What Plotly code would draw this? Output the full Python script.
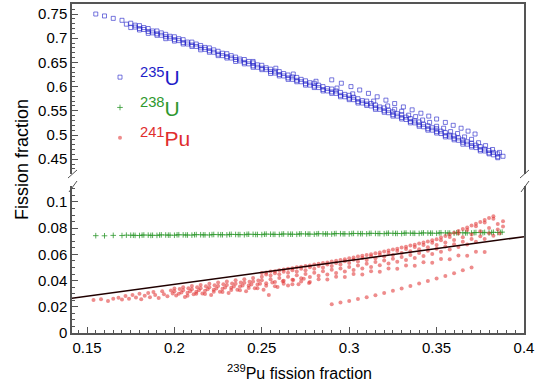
import plotly.graph_objects as go

# ---------------- data ----------------
# 235U (upper panel) tracks
U235_X1 = [0.155,0.160,0.165,0.170,0.175,0.180,0.185,0.190,0.195,0.200,0.205,0.210,0.215,0.220,0.225,0.230,
           0.235,0.240,0.245,0.250,0.255,0.260,0.265,0.270,0.275,0.280,0.285,0.290,0.295,0.300,0.305,0.310,
           0.315,0.320,0.325,0.330,0.335,0.340,0.345,0.350,0.355,0.360,0.365,0.370,0.375,0.380,0.385]
U235_Y1 = [0.750,0.746,0.741,0.737,0.731,0.726,0.720,0.715,0.708,0.703,0.697,0.692,0.685,0.680,0.673,0.668,
           0.661,0.656,0.649,0.644,0.636,0.631,0.624,0.619,0.612,0.607,0.600,0.595,0.588,0.582,0.575,0.570,
           0.562,0.556,0.548,0.542,0.534,0.527,0.519,0.513,0.505,0.498,0.490,0.483,0.476,0.468,0.461]
U235_X2 = [0.1725,0.1775,0.1825,0.1875,0.1925,0.1975,0.2025,0.2075,0.2125,0.2175,0.2225,0.2275,0.2325,0.2375,
           0.2425,0.2475,0.2525,0.2575,0.2625,0.2675,0.2725,0.2775,0.2825,0.2875,0.2925,0.2975,0.3025,0.3075,
           0.3125,0.3175,0.3225,0.3275,0.3325,0.3375,0.3425,0.3475,0.3525,0.3575,0.3625,0.3675,0.3725,0.3775,0.3825]
U235_Y2 = [0.729,0.723,0.718,0.711,0.706,0.700,0.695,0.688,0.683,0.677,0.671,0.664,0.659,0.653,
           0.647,0.640,0.635,0.628,0.622,0.615,0.610,0.603,0.598,0.591,0.586,0.579,0.573,0.566,
           0.560,0.553,0.546,0.539,0.532,0.525,0.517,0.510,0.503,0.496,0.489,0.481,0.474,0.467,0.459]
U235_X3 = [0.175,0.180,0.185,0.190,0.195,0.200,0.205,0.210,0.215,0.220,0.225,0.230,0.235,0.240,0.245,0.250,
           0.255,0.260,0.265,0.270,0.275,0.280,0.285,0.290,0.295,0.300,0.305,0.310,0.315,0.320,0.325,0.330,
           0.335,0.340,0.345,0.350,0.355,0.360,0.365,0.370,0.375,0.380,0.385]
U235_Y3 = [0.722,0.717,0.710,0.706,0.699,0.694,0.688,0.683,0.676,0.671,0.664,0.659,0.652,0.647,0.640,0.635,
           0.627,0.622,0.615,0.610,0.603,0.598,0.591,0.586,0.579,0.573,0.566,0.561,0.553,0.547,0.539,0.533,
           0.525,0.518,0.510,0.504,0.496,0.490,0.481,0.475,0.467,0.461,0.453]
U235_X4 = [0.245,0.258,0.268,0.281,0.293,0.302,0.314,0.322,0.326,0.330,0.334,0.338,0.342,0.346,0.350,0.354,
           0.358,0.362,0.366,0.370,0.374,0.378,0.382,0.386,0.388]
U235_Y4 = [0.652,0.638,0.626,0.611,0.597,0.585,0.570,0.560,0.553,0.549,0.541,0.538,0.531,0.526,0.518,0.514,
           0.507,0.503,0.496,0.491,0.484,0.478,0.470,0.464,0.456]
U235_X5 = [0.290,0.2955,0.301,0.306,0.311,0.316,0.321,0.326,0.331,0.336,0.341,0.3455,0.350,0.355,0.3595,0.364,0.368,0.372]
U235_Y5 = [0.614,0.607,0.600,0.593,0.586,0.579,0.572,0.565,0.558,0.552,0.545,0.539,0.533,0.526,0.520,0.514,0.508,0.502]
U235_X6 = [0.1775,0.1825,0.1875,0.1925,0.1975,0.2025,0.2075,0.2125,0.2175,0.2225,0.2275,0.2325,0.2375,0.2425,
           0.2475,0.2525,0.2575,0.2625,0.2675,0.2725,0.2775,0.2825,0.2875,0.2925,0.2975,0.3025,0.3075,0.3125,
           0.3175,0.3225,0.3275,0.3325,0.3375,0.3425,0.3475,0.3525,0.3575,0.3625,0.3675,0.3725,0.3775,0.3825]
U235_Y6 = [0.727,0.722,0.715,0.711,0.704,0.699,0.692,0.688,0.681,0.676,0.669,0.664,0.657,0.652,
           0.645,0.639,0.632,0.627,0.620,0.615,0.608,0.603,0.596,0.591,0.584,0.578,0.571,0.565,
           0.558,0.551,0.544,0.537,0.529,0.522,0.515,0.508,0.500,0.494,0.486,0.479,0.471,0.464]
U235_X7 = [0.180,0.185,0.190,0.195,0.200,0.205,0.210,0.215,0.220,0.225,0.230,0.235,0.240,0.245,0.250,0.255,
           0.260,0.265,0.270,0.275,0.280,0.285,0.290,0.295,0.300,0.305,0.310,0.315,0.320,0.325,0.330,0.335,
           0.340,0.345,0.350,0.355,0.360,0.365,0.370,0.375,0.380,0.385]
U235_Y7 = [0.720,0.714,0.709,0.703,0.697,0.691,0.686,0.680,0.674,0.667,0.662,0.656,0.650,0.643,0.638,0.631,
           0.625,0.618,0.613,0.606,0.601,0.594,0.589,0.582,0.576,0.569,0.564,0.556,0.550,0.542,0.536,0.528,
           0.521,0.513,0.507,0.499,0.493,0.485,0.478,0.470,0.463,0.455]

# 238U (lower panel)
U238_X1 = [0.155,0.160,0.165,0.170,0.175,0.180,0.185,0.190,0.195,0.200,0.205,0.210,0.215,0.220,0.225,0.230,
           0.235,0.240,0.245,0.250,0.255,0.260,0.265,0.270,0.275,0.280,0.285,0.290,0.295,0.300,0.305,0.310,
           0.315,0.320,0.325,0.330,0.335,0.340,0.345,0.350,0.355,0.360,0.365,0.370,0.375,0.380,0.385]
U238_Y1 = [0.0743,0.0742,0.0745,0.0744,0.0746,0.0744,0.0747,0.0745,0.0748,0.0746,0.0749,0.0747,0.0750,0.0748,
           0.0751,0.0749,0.0752,0.0750,0.0753,0.0751,0.0754,0.0752,0.0755,0.0753,0.0756,0.0754,0.0757,0.0755,
           0.0758,0.0756,0.0759,0.0757,0.0760,0.0758,0.0761,0.0759,0.0762,0.0760,0.0763,0.0761,0.0764,0.0762,
           0.0765,0.0763,0.0766,0.0764,0.0767]
U238_X2 = [0.1725,0.1775,0.1825,0.1875,0.1925,0.1975,0.2025,0.2075,0.2125,0.2175,0.2225,0.2275,0.2325,0.2375,
           0.2425,0.2475,0.2525,0.2575,0.2625,0.2675,0.2725,0.2775,0.2825,0.2875,0.2925,0.2975,0.3025,0.3075,
           0.3125,0.3175,0.3225,0.3275,0.3325,0.3375,0.3425,0.3475,0.3525,0.3575,0.3625,0.3675,0.3725,0.3775,
           0.3825,0.3875]
U238_Y2 = [0.0747,0.0745,0.0748,0.0746,0.0749,0.0747,0.0750,0.0748,0.0751,0.0749,0.0752,0.0750,0.0753,0.0751,
           0.0754,0.0752,0.0755,0.0753,0.0756,0.0754,0.0757,0.0755,0.0758,0.0756,0.0759,0.0757,0.0760,0.0758,
           0.0761,0.0759,0.0762,0.0760,0.0763,0.0761,0.0764,0.0762,0.0765,0.0763,0.0766,0.0764,0.0767,0.0768,
           0.0769,0.0770]
U238_X3 = [0.1765,0.1815,0.1865,0.1915,0.1965,0.2015,0.2065,0.2115,0.2165,0.2215,0.2265,0.2315,0.2365,0.2415,
           0.2465,0.2515,0.2565,0.2615,0.2665,0.2715,0.2765,0.2815,0.2865,0.2915,0.2965,0.3015,0.3065,0.3115,
           0.3165,0.3215,0.3265,0.3315,0.3365,0.3415,0.3465,0.3515,0.3565,0.3615,0.3665,0.3715,0.3765,0.3815,0.3865]
U238_Y3 = [0.0746,0.0747,0.0745,0.0748,0.0747,0.0749,0.0748,0.0750,0.0749,0.0751,0.0750,0.0752,0.0751,0.0753,
           0.0752,0.0754,0.0753,0.0755,0.0754,0.0756,0.0755,0.0757,0.0756,0.0758,0.0757,0.0759,0.0758,0.0760,
           0.0759,0.0761,0.0760,0.0762,0.0761,0.0763,0.0762,0.0764,0.0763,0.0765,0.0764,0.0766,0.0765,0.0767,0.0768]

# 241Pu (lower panel)
# dense top bundle
PU241_X1 = [0.2500,0.2525,0.2550,0.2575,0.2600,0.2625,0.2650,0.2675,0.2700,0.2725,0.2750,0.2775,0.2800,0.2825,
            0.2850,0.2875,0.2900,0.2925,0.2950,0.2975,0.3000,0.3025,0.3050,0.3075,0.3100,0.3125,0.3150,0.3175,
            0.3200,0.3225,0.3250,0.3275,0.3300,0.3325,0.3350,0.3375,0.3400,0.3425,0.3450,0.3475,0.3500,0.3525,
            0.3550,0.3575,0.3600,0.3625,0.3650,0.3675,0.3700,0.3725,0.3750,0.3775,0.3800,0.3825]
PU241_Y1 = [0.0458,0.0462,0.0469,0.0472,0.0479,0.0484,0.0490,0.0494,0.0501,0.0505,0.0512,0.0516,0.0523,0.0528,
            0.0535,0.0539,0.0546,0.0551,0.0558,0.0563,0.0571,0.0576,0.0583,0.0589,0.0596,0.0602,0.0609,0.0615,
            0.0623,0.0629,0.0637,0.0644,0.0652,0.0659,0.0667,0.0674,0.0683,0.0690,0.0699,0.0707,0.0716,0.0728,
            0.0740,0.0753,0.0766,0.0779,0.0793,0.0806,0.0820,0.0834,0.0848,0.0862,0.0877,0.0891]
PU241_X1B = [0.2525,0.2575,0.2625,0.2675,0.2725,0.2775,0.2825,0.2875,0.2925,0.2975,0.3025,0.3075,0.3125,0.3175,
             0.3225,0.3275,0.3325,0.3375,0.3425,0.3475,0.3525,0.3575,0.3625,0.3675,0.3725,0.3775,0.3825]
PU241_Y1B = [0.0447,0.0457,0.0468,0.0479,0.0490,0.0501,0.0512,0.0523,0.0535,0.0547,0.0559,0.0572,0.0585,0.0598,
             0.0611,0.0626,0.0641,0.0656,0.0672,0.0688,0.0708,0.0733,0.0760,0.0787,0.0815,0.0843,0.0872]
# fanning lighter tracks
PU241_X2 = [0.200,0.205,0.210,0.215,0.220,0.225,0.230,0.235,0.240,0.245,0.250,0.255,0.260,0.265,0.270,0.275,
            0.280,0.285,0.290,0.295,0.300,0.305,0.310,0.315,0.320,0.325,0.330,0.335,0.340,0.345,0.350,0.355,
            0.360,0.365,0.370,0.375,0.380,0.385,0.388]
PU241_Y2 = [0.0340,0.0350,0.0358,0.0367,0.0376,0.0385,0.0394,0.0402,0.0411,0.0420,0.0430,0.0439,0.0449,0.0459,
            0.0469,0.0479,0.0490,0.0500,0.0511,0.0522,0.0534,0.0546,0.0558,0.0570,0.0583,0.0596,0.0610,0.0624,
            0.0639,0.0655,0.0672,0.0690,0.0710,0.0730,0.0752,0.0776,0.0802,0.0832,0.0852]
PU241_X3 = PU241_X2
PU241_Y3 = [0.0318,0.0326,0.0334,0.0342,0.0350,0.0358,0.0367,0.0375,0.0384,0.0393,0.0402,0.0411,0.0420,0.0430,
            0.0440,0.0450,0.0460,0.0471,0.0482,0.0493,0.0504,0.0516,0.0528,0.0541,0.0554,0.0567,0.0581,0.0596,
            0.0611,0.0627,0.0643,0.0660,0.0678,0.0697,0.0717,0.0739,0.0762,0.0790,0.0812]
PU241_X4 = [0.2025,0.2075,0.2125,0.2175,0.2225,0.2275,0.2325,0.2375,0.2425,0.2475,0.2525,0.2575,0.2625,0.2675,
            0.2725,0.2775,0.2825,0.2875,0.2925,0.2975,0.3025,0.3075,0.3125,0.3175,0.3225,0.3275,0.3325,0.3375,
            0.3425,0.3475,0.3525,0.3575,0.3625,0.3675,0.3725,0.3775,0.3825,0.3860]
PU241_Y4 = [0.0300,0.0307,0.0315,0.0322,0.0330,0.0338,0.0346,0.0354,0.0362,0.0371,0.0380,0.0389,0.0398,0.0407,
            0.0417,0.0427,0.0437,0.0447,0.0458,0.0469,0.0480,0.0492,0.0504,0.0517,0.0530,0.0543,0.0557,0.0572,
            0.0587,0.0603,0.0620,0.0637,0.0656,0.0675,0.0696,0.0718,0.0742,0.0760]
# tracks under the fit line
PU241_X5 = [0.2075,0.2175,0.2275,0.2375,0.2475,0.2575,0.2675,0.2775,0.2875,0.2975,0.3075,0.3175,0.3275,0.3375,
            0.3475,0.3575,0.3675,0.3775]
PU241_Y5 = [0.0285,0.0298,0.0312,0.0326,0.0341,0.0357,0.0373,0.0390,0.0408,0.0427,0.0447,0.0468,0.0490,0.0513,
            0.0537,0.0562,0.0589,0.0618]
PU241_X6 = [0.2125,0.2225,0.2325,0.2425,0.2525,0.2625,0.2725,0.2825,0.2925,0.3025,0.3125,0.3225,0.3325,0.3425,
            0.3525,0.3625,0.3725]
PU241_Y6 = [0.0300,0.0314,0.0329,0.0344,0.0360,0.0376,0.0393,0.0411,0.0430,0.0450,0.0471,0.0493,0.0516,0.0540,
            0.0565,0.0592,0.0620]
# sparse low track
PU241_X7 = [0.290,0.295,0.300,0.305,0.310,0.315,0.320,0.325,0.330,0.335,0.340,0.345,0.350,0.355,0.360,0.365,0.370]
PU241_Y7 = [0.0220,0.0232,0.0245,0.0259,0.0273,0.0289,0.0305,0.0322,0.0340,0.0358,0.0377,0.0396,0.0416,0.0436,
            0.0457,0.0478,0.0500]
# scattered cloud at low 239Pu fraction
PU241_X8 = [0.1537,0.158,0.162,0.165,0.168,0.170,0.172,0.174,0.176,0.178,0.180,0.181,0.183,0.185,0.186,0.188,
            0.189,0.191,0.193,0.194,0.196,0.198,0.199,0.201,0.203,0.204,0.206,0.208,0.209,0.211,0.213,0.214,
            0.216,0.218,0.219,0.221,0.223,0.224,0.226,0.228,0.229,0.231,0.233,0.234,0.236,0.238,0.239,0.241,
            0.243,0.244,0.246,0.248,0.249,0.251,0.254,0.256,0.259,0.262,0.265,0.268,0.271,0.274,0.277]
PU241_Y8 = [0.0252,0.0258,0.0245,0.0262,0.0270,0.0255,0.0282,0.0262,0.0290,0.0271,0.0300,0.0258,0.0285,0.0305,
            0.0272,0.0312,0.0290,0.0268,0.0318,0.0295,0.0280,0.0325,0.0302,0.0287,0.0335,0.0310,0.0275,0.0342,
            0.0318,0.0295,0.0350,0.0326,0.0302,0.0357,0.0334,0.0290,0.0365,0.0340,0.0315,0.0372,0.0348,0.0305,
            0.0378,0.0355,0.0330,0.0386,0.0362,0.0318,0.0392,0.0370,0.0342,0.0400,0.0376,0.0330,0.0290,0.0385,
            0.0352,0.0395,0.0362,0.0405,0.0372,0.0415,0.0382]

# linear fit line
FIT_X = [0.14, 0.40]
FIT_Y = [0.0262, 0.0735]

X_TICKS = [0.15, 0.2, 0.25, 0.3, 0.35, 0.4]
X_TICKTEXT = ["0.15", "0.2", "0.25", "0.3", "0.35", "0.4"]
YLOW_TICKS = [0, 0.02, 0.04, 0.06, 0.08, 0.1]
YLOW_TICKTEXT = ["0", "0.02", "0.04", "0.06", "0.08", "0.1"]
YUP_TICKS = [0.45, 0.5, 0.55, 0.6, 0.65, 0.7, 0.75]
YUP_TICKTEXT = ["0.45", "0.5", "0.55", "0.6", "0.65", "0.7", "0.75"]

BLUE = "#1e1ec8"
GREEN = "#2e982e"
RED = "#e02e2e"

# ---------------- figure ----------------
W, H = 542, 385
ML, MR, MT, MB = 72, 18, 4, 52
PW, PH = W - ML - MR, H - MT - MB
FONT = "Liberation Sans, Arial, Helvetica, sans-serif"

def py2paper(py):
    return (H - MB - py) / PH

def px2paper(px):
    return (px - ML) / PW

def cat(*lists):
    out = []
    for l in lists:
        out += list(l)
    return out

fig = go.Figure()

fig.add_trace(go.Scatter(
    x=cat(U235_X1, U235_X2, U235_X3, U235_X4, U235_X5, U235_X6, U235_X7),
    y=cat(U235_Y1, U235_Y2, U235_Y3, U235_Y4, U235_Y5, U235_Y6, U235_Y7),
    mode="markers", xaxis="x2", yaxis="y2",
    name='<span style="color:%s"><sup>235</sup>U</span>' % BLUE,
    marker=dict(symbol="square-open", size=4, color=BLUE, opacity=0.6, line=dict(width=1, color=BLUE)),
))
fig.add_trace(go.Scatter(
    x=cat(U238_X1, U238_X2, U238_X3), y=cat(U238_Y1, U238_Y2, U238_Y3),
    mode="markers", xaxis="x", yaxis="y",
    name='<span style="color:%s"><sup>238</sup>U</span>' % GREEN,
    marker=dict(symbol="cross-thin-open", size=4, color=GREEN, opacity=0.8, line=dict(width=1, color=GREEN)),
))
fig.add_trace(go.Scatter(
    x=cat(PU241_X1, PU241_X1B, PU241_X2, PU241_X3, PU241_X4, PU241_X5, PU241_X6, PU241_X7, PU241_X8),
    y=cat(PU241_Y1, PU241_Y1B, PU241_Y2, PU241_Y3, PU241_Y4, PU241_Y5, PU241_Y6, PU241_Y7, PU241_Y8),
    mode="markers", xaxis="x", yaxis="y",
    name='<span style="color:%s"><sup>241</sup>Pu</span>' % RED,
    marker=dict(symbol="circle", size=4, color=RED, opacity=0.55, line=dict(width=0)),
))
fig.add_trace(go.Scatter(
    x=FIT_X, y=FIT_Y, mode="lines", xaxis="x", yaxis="y", showlegend=False,
    line=dict(color="#200000", width=1.5),
))

axis_font = dict(family=FONT, size=15, color="black")
AX_COLOR = "#555555"

fig.update_layout(
    width=W, height=H,
    margin=dict(l=ML, r=MR, t=MT, b=MB),
    paper_bgcolor="white", plot_bgcolor="white",
    font=dict(family=FONT, color="black"),
    xaxis=dict(domain=[0, 1], range=[0.1414, 0.4], anchor="y",
               tickvals=X_TICKS, ticktext=X_TICKTEXT, tickfont=axis_font,
               ticks="inside", ticklen=6, tickwidth=1, tickcolor=AX_COLOR,
               minor=dict(dtick=0.005, ticks="inside", ticklen=3, tickcolor=AX_COLOR, tick0=0),
               showline=True, linecolor=AX_COLOR, linewidth=1.5, mirror=False,
               showgrid=False, zeroline=False),
    xaxis2=dict(domain=[0, 1], range=[0.1414, 0.4], anchor="y2", side="top",
                showticklabels=False, ticks="", showline=True, linecolor=AX_COLOR, linewidth=1.5,
                showgrid=False, zeroline=False, matches="x"),
    yaxis=dict(domain=[0, py2paper(186)], range=[0, 0.1122], anchor="x",
               tickvals=YLOW_TICKS, ticktext=YLOW_TICKTEXT, tickfont=axis_font,
               ticks="inside", ticklen=6, tickwidth=1, tickcolor=AX_COLOR,
               minor=dict(dtick=0.005, ticks="inside", ticklen=3, tickcolor=AX_COLOR, tick0=0),
               showline=True, linecolor=AX_COLOR, linewidth=1.5, mirror=True,
               showgrid=False, zeroline=False),
    yaxis2=dict(domain=[py2paper(174), 1], range=[0.4194, 0.7707], anchor="x2",
                tickvals=YUP_TICKS, ticktext=YUP_TICKTEXT, tickfont=axis_font,
                ticks="inside", ticklen=6, tickwidth=1, tickcolor=AX_COLOR,
                minor=dict(dtick=0.01, ticks="inside", ticklen=3, tickcolor=AX_COLOR, tick0=0),
                showline=True, linecolor=AX_COLOR, linewidth=1.5, mirror=True,
                showgrid=False, zeroline=False),
    legend=dict(x=px2paper(100), y=py2paper(57), xanchor="left", yanchor="top",
                bgcolor="rgba(0,0,0,0)", font=dict(size=21, family=FONT),
                itemsizing="trace", tracegroupgap=0),
    showlegend=True,
)

# axis titles
fig.add_annotation(text="Fission fraction", xref="paper", yref="paper",
                   x=px2paper(22), y=py2paper(160), xanchor="center", yanchor="middle",
                   textangle=-90, showarrow=False,
                   font=dict(size=18, family=FONT, color="black"))
fig.add_annotation(text="<sup>239</sup>Pu fission fraction", xref="paper", yref="paper",
                   x=px2paper(299), y=py2paper(372), xanchor="center", yanchor="middle",
                   showarrow=False,
                   font=dict(size=16, family=FONT, color="black"))

# axis break marks
for bx in (72, 524):
    for (x0, y0, x1, y1) in ((bx - 4, 178, bx + 5, 170), (bx - 3, 192, bx + 5, 181)):
        fig.add_shape(type="line", xref="paper", yref="paper",
                      x0=px2paper(x0), y0=py2paper(y0), x1=px2paper(x1), y1=py2paper(y1),
                      line=dict(color=AX_COLOR, width=1))

fig.write_html("out.html")
